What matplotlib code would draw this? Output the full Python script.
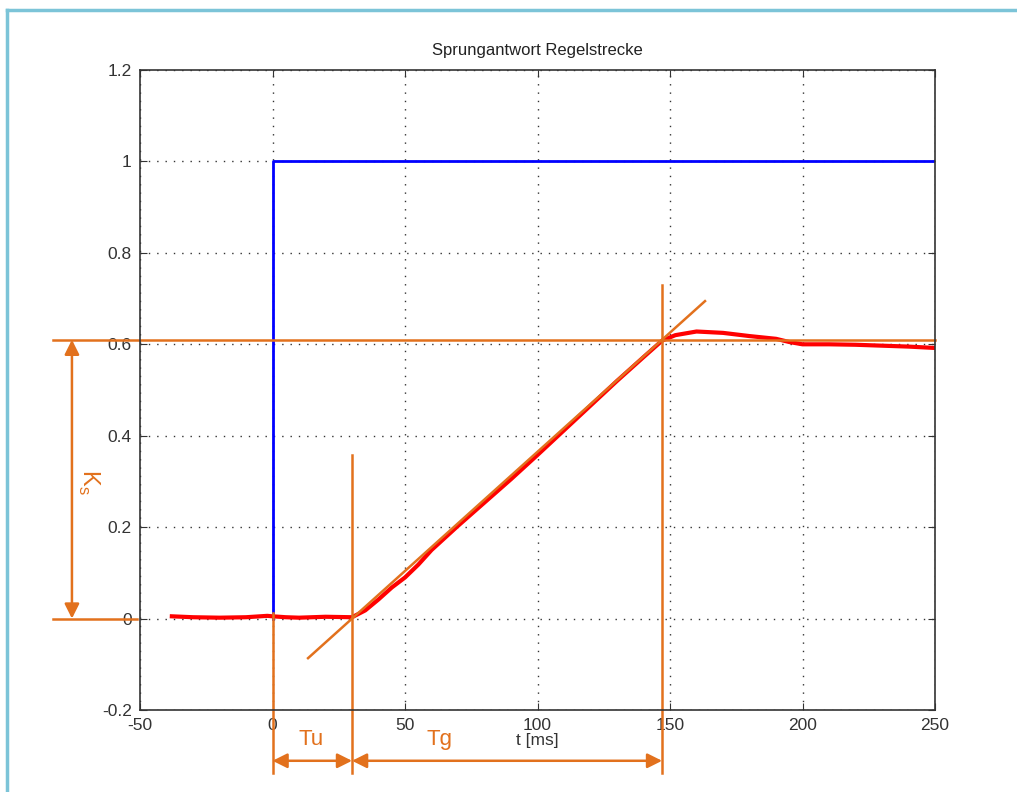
import numpy as np
import matplotlib.pyplot as plt
from matplotlib.lines import Line2D

plt.rcParams['font.family'] = ['Liberation Sans', 'DejaVu Sans']

# gemessene Sprungantwort (t in ms)
t_mess = [-38, -30, -20, -10, -2, 0, 5, 10, 20, 30, 35, 40, 45, 50, 55, 60, 70, 80,
          90, 100, 110, 120, 130, 140, 147, 152, 160, 170, 180, 190, 195, 200,
          210, 220, 230, 240, 250]
y_mess = [0.005, 0.003, 0.002, 0.003, 0.006, 0.005, 0.003, 0.002, 0.004, 0.003,
          0.018, 0.042, 0.068, 0.09, 0.118, 0.15, 0.203, 0.254, 0.305, 0.358,
          0.412, 0.466, 0.52, 0.572, 0.608, 0.62, 0.628, 0.625, 0.618, 0.612,
          0.605, 0.600, 0.600, 0.599, 0.597, 0.595, 0.592]

# Eingangssprung
t_sprung = [0, 0, 250]
y_sprung = [0, 1, 1]

# Kennwerte aus der Wendetangente
Tu = 30
Tg_end = 147
Ks = 0.61
t_tangente = [13.4, 163.2]

orange = '#E2711D'

fig = plt.figure(figsize=(10.17, 7.92), dpi=100)
ax = fig.add_axes([0.1377, 0.1035, 0.7817, 0.8081])

ax.plot(t_sprung, y_sprung, color='#0000FF', lw=2)
ax.plot(t_mess, y_mess, color='#FF0000', lw=3)

ax.set_xlim(-50, 250)
ax.set_ylim(-0.2, 1.2)
ax.set_xticks(np.arange(-50, 251, 50))
ax.set_yticks(np.round(np.arange(-0.2, 1.21, 0.2), 1))
ax.set_yticklabels(['-0.2', '0', '0.2', '0.4', '0.6', '0.8', '1', '1.2'])
ax.set_xticklabels(['-50', '0', '50', '100', '150', '200', '250'])
ax.tick_params(direction='in', top=True, right=True, length=5, labelsize=12.5,
               pad=6, labelcolor='#333333', color='#333333')
ax.grid(True, linestyle=(0, (1, 5)), color='#333333', lw=1)
for s in ax.spines.values():
    s.set_linewidth(1.2)
    s.set_color('#333333')
ax.set_title('Sprungantwort Regelstrecke', fontsize=12, pad=11, color='#222222')
ax.set_xlabel('t [ms]', fontsize=12.5, labelpad=0, color='#333333')

# Wendetangente
slope = Ks / (Tg_end - Tu)
ax.plot(t_tangente, [slope * (t - Tu) for t in t_tangente], color=orange, lw=1.8)

# Hilfslinien (teilweise ausserhalb der Achsen)
kw = dict(color=orange, lw=1.8, clip_on=False)
ax.plot([-83, 250], [Ks, Ks], **kw)
ax.plot([-83, -51], [0, 0], **kw)
ax.plot([0, 0], [0.013, -0.337], **kw)
ax.plot([Tu, Tu], [0.357, -0.337], **kw)
ax.plot([Tg_end, Tg_end], [0.729, -0.337], **kw)

arrow = dict(arrowstyle='<|-|>', color=orange, lw=1.8, mutation_scale=22,
             shrinkA=0, shrinkB=0)
ax.annotate('', xy=(-75.7, Ks), xytext=(-75.7, 0), arrowprops=arrow,
            annotation_clip=False)
ax.annotate('', xy=(0, -0.311), xytext=(Tu, -0.311), arrowprops=arrow,
            annotation_clip=False)
ax.annotate('', xy=(Tu, -0.311), xytext=(Tg_end, -0.311), arrowprops=arrow,
            annotation_clip=False)

ax.text(-69.5, 0.30, r'K$_\mathregular{s}$', color=orange, fontsize=17,
        rotation=-90, ha='center', va='center', clip_on=False)
ax.text(14.5, -0.265, 'Tu', color=orange, fontsize=16, ha='center', va='center',
        clip_on=False)
ax.text(63, -0.265, 'Tg', color=orange, fontsize=16, ha='center', va='center',
        clip_on=False)

# Rahmen oben und links
frame = '#7CC4D8'
fig.add_artist(Line2D([7 / 1017, 1], [1 - 10 / 792, 1 - 10 / 792],
                      transform=fig.transFigure, color=frame, lw=2.5))
fig.add_artist(Line2D([7 / 1017, 7 / 1017], [0, 1 - 10 / 792],
                      transform=fig.transFigure, color=frame, lw=2.5))

fig.savefig('out.png', dpi=100)
